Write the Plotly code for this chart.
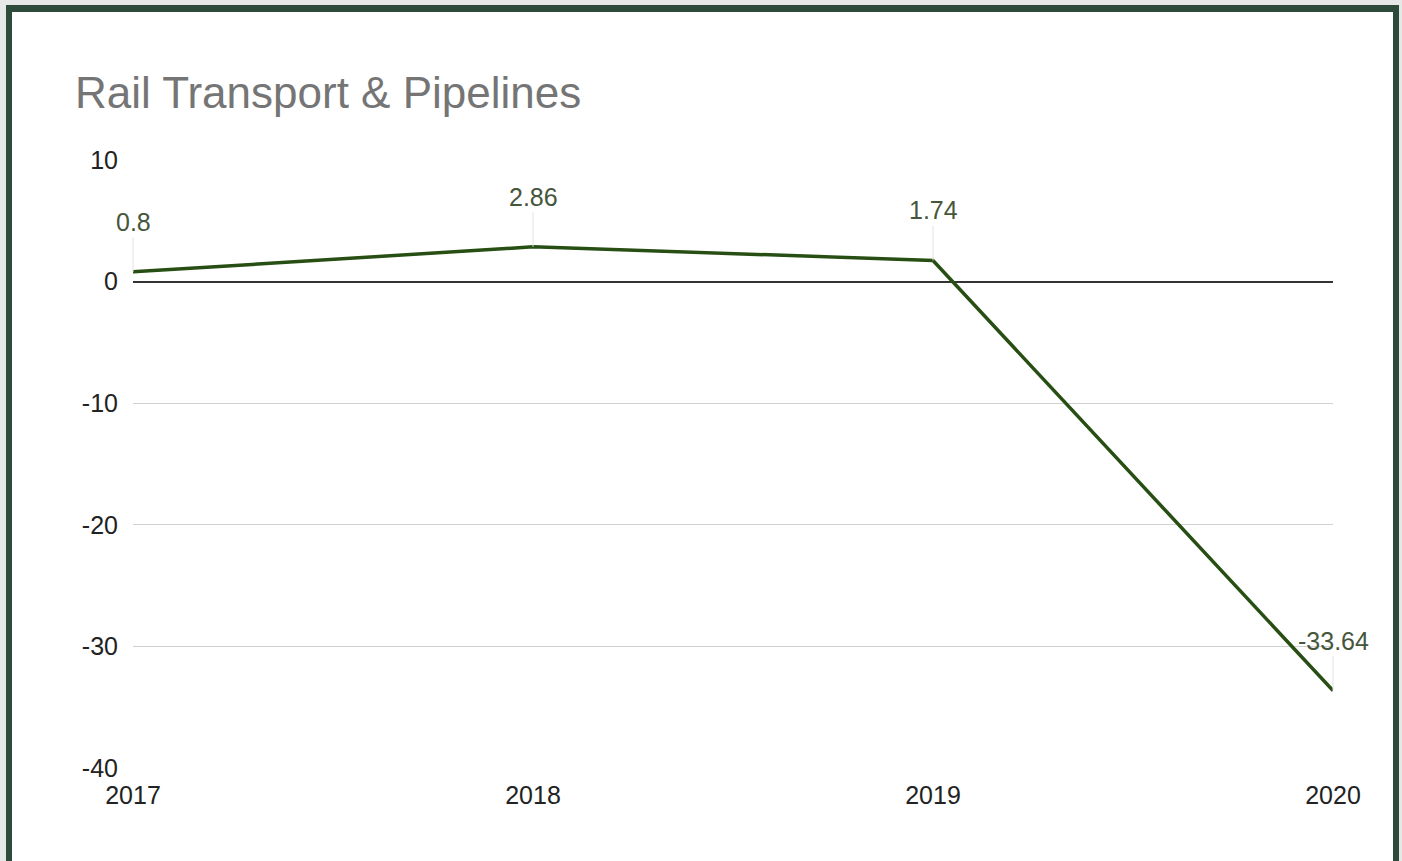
import plotly.graph_objects as go

# data
years = [2017, 2018, 2019, 2020]
values = [0.8, 2.86, 1.74, -33.64]
labels = ['0.8', '2.86', '1.74', '-33.64']
y_ticks = [10, 0, -10, -20, -30, -40]
y_ticktext = ['10', '0', '-10', '-20', '-30', '-40']

W, H = 1402, 861
L, R, T, B = 133, 69, 160, 93
FONT = 'Liberation Sans, Arial, sans-serif'

fig = go.Figure()
fig.add_trace(
    go.Scatter(
        x=years,
        y=values,
        mode='lines',
        line=dict(color='#274e13', width=3.5),
        showlegend=False,
        hoverinfo='skip',
    )
)

# data labels with thin leader lines
for x, y, t in zip(years, values, labels):
    fig.add_annotation(
        x=x, y=y, text=t,
        showarrow=True, arrowhead=0, arrowwidth=1, arrowcolor='#e2e2e2',
        ax=0, ay=-50,
        font=dict(family=FONT, size=25, color='#45563a'),
    )

pw = W - L - R
ph = H - T - B


def px(xp):
    return (xp - L) / pw


def py(yp):
    return (H - B - yp) / ph


# outer frame: light grey edge then dark green band
fig.add_shape(type='rect', xref='paper', yref='paper',
              x0=px(0), x1=px(W), y0=py(H + 20), y1=py(0),
              line_width=0, fillcolor='#e6e8e7', layer='below')
fig.add_shape(type='rect', xref='paper', yref='paper',
              x0=px(6), x1=px(1399), y0=py(H + 20), y1=py(5),
              line_width=0, fillcolor='#2d4a3b', layer='below')
fig.add_shape(type='rect', xref='paper', yref='paper',
              x0=px(12), x1=px(1393), y0=py(H + 20), y1=py(12),
              line_width=0, fillcolor='white', layer='below')

fig.update_layout(
    width=W,
    height=H,
    margin=dict(l=L, r=R, t=T, b=B),
    paper_bgcolor='white',
    plot_bgcolor='rgba(0,0,0,0)',
    font=dict(family=FONT, color='#222222'),
    title=dict(
        text='Rail Transport & Pipelines',
        font=dict(family=FONT, size=44, color='#757575'),
        x=75 / W, xanchor='left', xref='container',
        y=1 - 93 / H, yanchor='middle', yref='container',
    ),
)
fig.update_xaxes(
    range=[2017, 2020],
    tickvals=years,
    showgrid=False,
    zeroline=False,
    showline=False,
    tickfont=dict(size=25, color='#222222'),
    ticklabelstandoff=10,
)
fig.update_yaxes(
    range=[-40, 10],
    tickvals=y_ticks,
    ticktext=y_ticktext,
    showgrid=True,
    gridcolor='#d0d0d0',
    gridwidth=1,
    zeroline=True,
    zerolinecolor='#333333',
    zerolinewidth=1.5,
    tickfont=dict(size=25, color='#222222'),
    ticklabelstandoff=14,
)

fig.write_html('out.html', config={'displayModeBar': False},
               post_script="document.body.style.margin='0';")
